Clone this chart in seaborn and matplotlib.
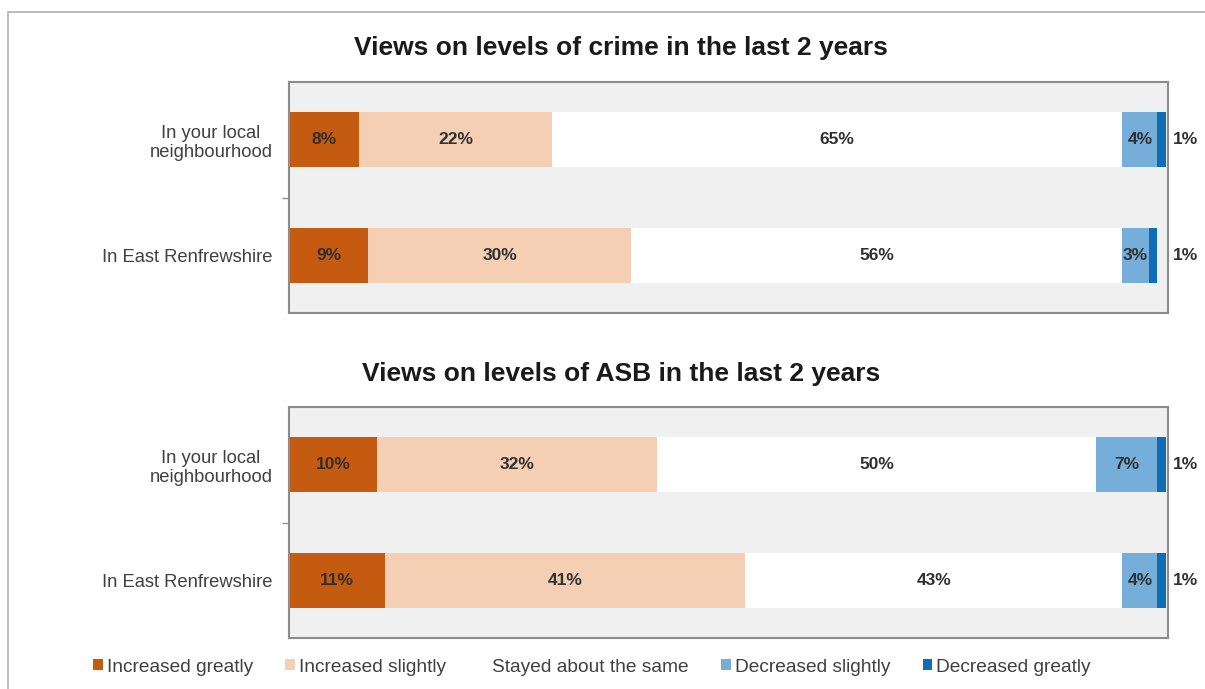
import matplotlib
matplotlib.use("Agg")
import matplotlib.pyplot as plt
from matplotlib.patches import Patch, Rectangle
import numpy as np
import pandas as pd
import seaborn as sns

# Survey responses (percent of respondents)
areas = ["In your local\nneighbourhood", "In East Renfrewshire"]
response_levels = ["Increased greatly", "Increased slightly", "Stayed about the same",
                   "Decreased slightly", "Decreased greatly"]

crime_increased_greatly = [8, 9]
crime_increased_slightly = [22, 30]
crime_stayed_same = [65, 56]
crime_decreased_slightly = [4, 3]
crime_decreased_greatly = [1, 1]

asb_increased_greatly = [10, 11]
asb_increased_slightly = [32, 41]
asb_stayed_same = [50, 43]
asb_decreased_slightly = [7, 4]
asb_decreased_greatly = [1, 1]

panel_titles = ["Views on levels of crime in the last 2 years",
                "Views on levels of ASB in the last 2 years"]

level_colors = ["#C55A11", "#F5CFB3", "#FFFFFF", "#76AEDA", "#0E6DB6"]

sns.set_style("white")
plt.rcParams["font.family"] = ["Liberation Sans", "DejaVu Sans"]

W, H = 1205, 689
fig = plt.figure(figsize=(W / 100, H / 100), dpi=100)


def fx(px):
    return px / W


def fy(py):
    return 1 - py / H


# outer frame of the chart area
fig.add_artist(Rectangle((fx(8), -0.2), 1.5, fy(12) + 0.2, transform=fig.transFigure,
                         fill=False, edgecolor="#B0B0B0", linewidth=1.2))

panels = [
    [crime_increased_greatly, crime_increased_slightly, crime_stayed_same,
     crime_decreased_slightly, crime_decreased_greatly],
    [asb_increased_greatly, asb_increased_slightly, asb_stayed_same,
     asb_decreased_slightly, asb_decreased_greatly],
]
axes_px = [(82, 313), (407, 638)]
title_px = [48, 374]

for series, (top, bottom), ty, title in zip(panels, axes_px, title_px, panel_titles):
    ax = fig.add_axes([fx(289), fy(bottom), fx(1168) - fx(289), (bottom - top) / H])
    ax.set_facecolor("#F0F0F0")

    df = pd.DataFrame({"area": areas})
    for name, vals in zip(response_levels, series):
        df[name] = vals
    cum = df[response_levels].cumsum(axis=1)
    lefts = cum - df[response_levels]

    # stacked bars: draw cumulative totals from the outermost segment inwards
    for name, color in reversed(list(zip(response_levels, level_colors))):
        plot_df = pd.DataFrame({"area": areas, "value": cum[name].values})
        sns.barplot(data=plot_df, x="value", y="area", orient="h", color=color,
                    saturation=1, width=0.48, linewidth=0, edgecolor="none",
                    errorbar=None, ax=ax)

    for i in range(len(areas)):
        for j, name in enumerate(response_levels):
            v = df.loc[i, name]
            if j == len(response_levels) - 1:
                xpos = 102.2
            else:
                xpos = lefts.loc[i, name] + v / 2
            ax.text(xpos, i, f"{v}%", ha="center", va="center", fontsize=12.5,
                    fontweight="bold", color="#303030", clip_on=False)

    ax.set_xlim(0, 100.2)
    ax.set_ylim(1.5, -0.5)
    ax.set_xlabel("")
    ax.set_ylabel("")
    ax.set_xticks([])
    ax.set_yticks([0.5], minor=True)
    ax.tick_params(axis="y", which="major", length=0, pad=12, labelsize=13.2,
                   labelcolor="#404040")
    ax.tick_params(axis="y", which="minor", length=5, width=1, color="#909090",
                   left=True, direction="out")
    for lab in ax.get_yticklabels():
        lab.set_multialignment("center")
    for sp in ax.spines.values():
        sp.set_visible(True)
        sp.set_color("#8C8C8C")
        sp.set_linewidth(1.5)

    fig.text(fx(621), fy(ty), title, ha="center", va="center", fontsize=19,
             fontweight="bold", color="#1A1A1A")

handles = [Patch(facecolor=c, edgecolor="none") for c in level_colors]
fig.legend(handles, response_levels, loc="center", bbox_to_anchor=(fx(592), fy(667)),
           ncol=5, frameon=False, fontsize=13.8, handlelength=0.5, handleheight=0.5,
           handletextpad=0.2, columnspacing=1.7, labelcolor="#404040")

fig.savefig("out.png", dpi=100)
